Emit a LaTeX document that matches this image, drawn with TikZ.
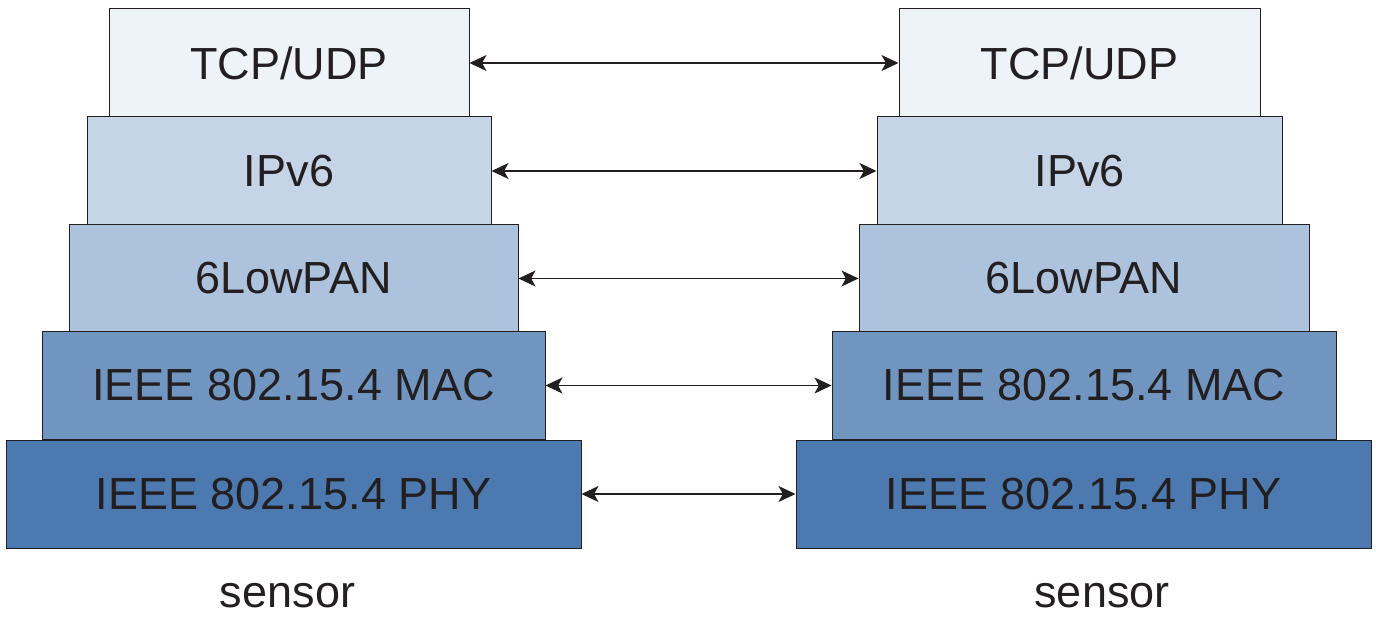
\documentclass[tikz,border=0pt]{standalone}
\usepackage{fontspec}
\setmainfont{Liberation Sans}
\usetikzlibrary{arrows.meta}
\definecolor{inkdark}{HTML}{231F20}
\definecolor{tcpfill}{HTML}{EDF3F7}
\definecolor{ipfill}{HTML}{C5D5E7}
\definecolor{panfill}{HTML}{ADC2DC}
\definecolor{macfill}{HTML}{7095C0}
\definecolor{phyfill}{HTML}{4C7AB0}

\begin{document}
\begin{tikzpicture}[x=0.5pt,y=-0.5pt,line width=0.5pt,
  layer/.style={draw=inkdark,inner sep=0pt,minimum height=54pt,
    text=inkdark,font=\fontsize{22.5}{27}\selectfont},
  peer/.style={draw=inkdark,line width=0.6pt,{Stealth[length=8.5pt,width=8pt,inset=2.2pt]}-{Stealth[length=8.5pt,width=8pt,inset=2.2pt]}},
  caption/.style={anchor=base,text=inkdark,font=\fontsize{22.5}{27}\selectfont}]
  \useasboundingbox (0,0) rectangle (1376,620);
  % left sensor
  \node[layer,fill=tcpfill,minimum width=180pt] (tcpL) at (289,63) {TCP/UDP};
  \node[layer,fill=ipfill,minimum width=202pt] (ipL) at (289,171) {IPv6};
  \node[layer,fill=panfill,minimum width=224.5pt] (panL) at (293.5,278.5) {6LowPAN};
  \node[layer,fill=macfill,minimum width=251.5pt] (macL) at (293.5,385.5) {IEEE 802.15.4 MAC};
  \node[layer,fill=phyfill,minimum width=287.5pt] (phyL) at (293.5,494) {IEEE 802.15.4 PHY};
  \node[caption] (sensL) at (287.5,607) {sensor};
  % right sensor
  \node[layer,fill=tcpfill,minimum width=180.5pt] (tcpR) at (1079.5,63) {TCP/UDP};
  \node[layer,fill=ipfill,minimum width=202.5pt] (ipR) at (1079.5,171) {IPv6};
  \node[layer,fill=panfill,minimum width=225pt] (panR) at (1084,278.5) {6LowPAN};
  \node[layer,fill=macfill,minimum width=252pt] (macR) at (1084,385.5) {IEEE 802.15.4 MAC};
  \node[layer,fill=phyfill,minimum width=287.5pt] (phyR) at (1083.5,494) {IEEE 802.15.4 PHY};
  \node[caption] (sensR) at (1102,607) {sensor};
  % peer-to-peer links
  \draw[peer] (tcpL) -- (tcpR);
  \draw[peer] (ipL) -- (ipR);
  \draw[peer] (panL) -- (panR);
  \draw[peer] (macL) -- (macR);
  \draw[peer] (phyL) -- (phyR);
\end{tikzpicture}
\end{document}
